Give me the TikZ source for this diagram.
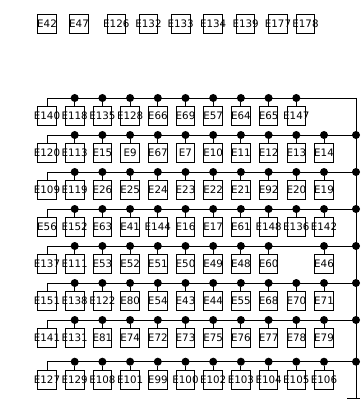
\documentclass[tikz,border=0pt]{standalone}
\usepackage{fontspec}
\setsansfont{DejaVu Sans}
\tikzset{
  elembox/.style={draw, line width=0.9pt, minimum size=18.6pt, inner sep=0pt, font=\sffamily\fontsize{10.3}{10.3}\selectfont, text height=7.5pt, text depth=0pt},
  junc/.style={circle, fill=black, minimum size=8pt, inner sep=0pt},
  bus/.style={line width=0.9pt}
}
\begin{document}
\begin{tikzpicture}[x=1pt, y=-1pt]
  \useasboundingbox (0,0) rectangle (360,403);
  \foreach \nm/\px in {E42/47,E47/79,E126/116.3,E132/148.5,E133/180.7,E134/213.2,E139/245.6,E177/278,E178/305.5}{
    \node[elembox] (\nm) at (\px,24) {\makebox[0pt]{\nm}};
  }
  \coordinate (gnd) at (356,398);
  \coordinate (gndl) at (347,398);
  \coordinate (gndr) at (360,398);
  \foreach \r/\py/\names in {
    1/116/{E140,E118,E135,E128,E66,E69,E57,E64,E65,E147},
    2/153/{E120,E113,E15,E9,E67,E7,E10,E11,E12,E13,E14},
    3/190/{E109,E119,E26,E25,E24,E23,E22,E21,E92,E20,E19},
    4/227/{E56,E152,E63,E41,E144,E16,E17,E61,E148,E136,E142},
    5/264/{E137,E111,E53,E52,E51,E50,E49,E48,E60,,E46},
    6/301/{E151,E138,E122,E80,E54,E43,E44,E55,E68,E70,E71},
    7/338/{E141,E131,E81,E74,E72,E73,E75,E76,E77,E78,E79},
    8/379.7/{E127,E129,E108,E101,E99,E100,E102,E103,E104,E105,E106}}{
    \pgfmathsetmacro{\by}{\py-18}
    \coordinate (T\r) at (356,\by);
    \foreach \nm [count=\c] in \names {
      \pgfmathsetmacro{\px}{47+27.7*(\c-1)}
      \ifx\nm\empty\else
        \node[elembox] (B\r-\c) at (\px,\py) {\makebox[0pt]{\nm}};
        \ifnum\c=1
          \draw[bus] (B\r-\c.north) |- (T\r);
        \else
          \node[junc] (J\r-\c) at (\px,\by) {};
          \draw[bus] (J\r-\c) -- (B\r-\c);
        \fi
      \fi
    }
    \ifnum\r>1 \node[junc] (JT\r) at (T\r) {}; \fi
  }
  \draw[bus] (T1) -- (gnd);
  \draw[bus] (gndl) -- (gndr);
\end{tikzpicture}
\end{document}
